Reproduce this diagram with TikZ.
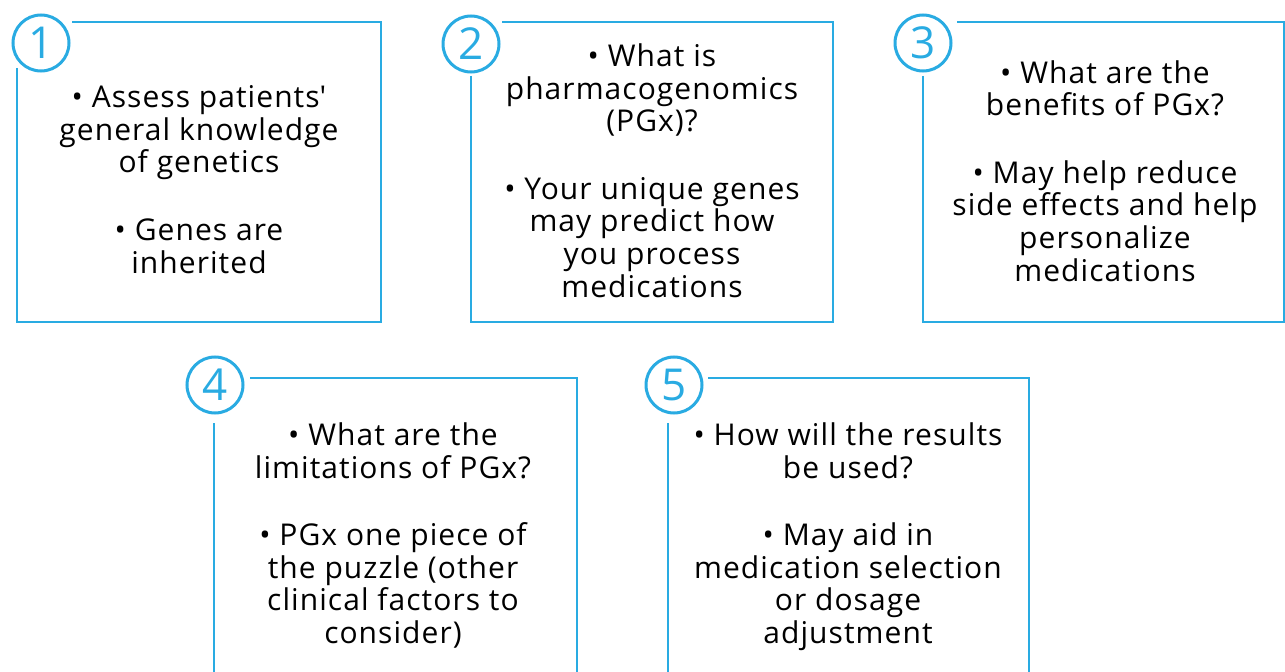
\documentclass[tikz,border=0pt]{standalone}
\usepackage{fontspec}
\setmainfont{Open Sans}[LetterSpace=3.5]
\usepackage{tikz}
\usetikzlibrary{positioning, calc}
\definecolor{azulPGx}{RGB}{41,171,226}
\tikzset{
  pg/frame/.style={draw=azulPGx, line width=2.6bp, line join=miter},
  pg/num/.style={circle, draw=azulPGx, line width=3bp, minimum size=56bp,
    inner sep=0pt, text=azulPGx, font=\fontsize{44bp}{44bp}\selectfont},
  % base sits on the last line of the block
  pg/txt/.style={align=center, inner sep=0pt, anchor=base,
    font=\fontsize{30bp}{32.5bp}\selectfont}
}

\begin{document}
\begin{tikzpicture}[x=1bp, y=-1bp]
  \useasboundingbox (0,0) rectangle (1285,672);
  \clip (0,0) rectangle (1285,672);

  % number badges
  \node[pg/num] (n1) at (41,43)   {1};
  \node[pg/num] (n2) at (471,44)  {2};
  \node[pg/num] (n3) at (923,43)  {3};
  \node[pg/num] (n4) at (215,385) {4};
  \node[pg/num] (n5) at (674,385) {5};

  % open frames, broken where the badge sits
  \draw[pg/frame] (17,68)  -- (17,322)  -- (381,322)  -- (381,22)  -- (72,22);
  \draw[pg/frame] (471,76) -- (471,322) -- (833,322)  -- (833,22)  -- (502,22);
  \draw[pg/frame] (923,76) -- (923,322) -- (1284,322) -- (1284,22) -- (957,22);
  \draw[pg/frame] (214,423) -- (214,690) -- (577,690) -- (577,378) -- (250,378);
  \draw[pg/frame] (668,423) -- (668,690) -- (1029,690) -- (1029,378) -- (708,378);

  % step texts
  \node[pg/txt] (t1) at (199,273) {\textbullet{} Assess patients\textquotesingle\\
        general knowledge\\of genetics\\[35bp]\textbullet{} Genes are\\inherited};
  \node[pg/txt] (t2) at (652,297) {\textbullet{} What is\\pharmacogenomics\\(PGx)?\\[35bp]
        \textbullet{} Your unique genes\\may predict how\\you process\\medications};
  \node[pg/txt] (t3) at (1105,281) {\textbullet{} What are the\\benefits of PGx?\\[35bp]
        \textbullet{} May help reduce\\side effects and help\\personalize\\medications};
  \node[pg/txt] (t4) at (393,643) {\textbullet{} What are the\\limitations of PGx?\\[35bp]
        \textbullet{} PGx one piece of\\the puzzle (other\\clinical factors to\\consider)};
  \node[pg/txt] (t5) at (848,643) {\textbullet{} How will the results\\be used?\\[35bp]
        \textbullet{} May aid in\\medication selection\\or dosage\\adjustment};
\end{tikzpicture}
\end{document}
